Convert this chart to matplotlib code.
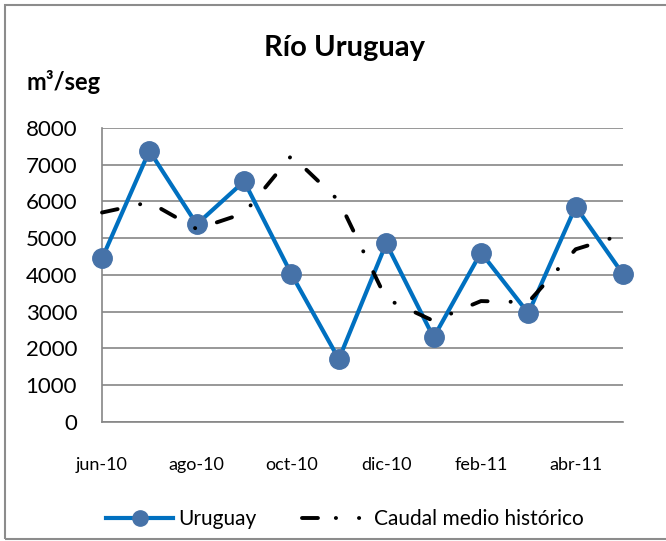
import matplotlib.pyplot as plt
from matplotlib.patches import Rectangle
from matplotlib.lines import Line2D

# Caudal mensual Río Uruguay (m3/seg)
meses = ['jun-10', 'jul-10', 'ago-10', 'sep-10', 'oct-10', 'nov-10',
         'dic-10', 'ene-11', 'feb-11', 'mar-11', 'abr-11', 'may-11']
uruguay = [4450, 7380, 5380, 6550, 4020, 1710, 4860, 2300, 4610, 2960, 5860, 4020]
historico = [5700, 5980, 5250, 5680, 7250, 6020, 3350, 2750, 3290, 3260, 4700, 5100]
y_ticks = [0, 1000, 2000, 3000, 4000, 5000, 6000, 7000, 8000]

grid_color = '#868686'
blue_line = '#0070C0'
blue_marker = '#4672A8'

plt.rcParams['font.family'] = ['Lato', 'DejaVu Sans']

fig = plt.figure(figsize=(6.66, 5.41), dpi=100, facecolor='white')
ax = fig.add_axes([0.1532, 0.2200, 0.7823, 0.5434])

x = list(range(len(meses)))
ax.plot(x, uruguay, color=blue_line, linewidth=3.0, marker='o', markersize=14,
        markerfacecolor=blue_marker, markeredgecolor=blue_marker,
        clip_on=False, zorder=3)
ax.plot(x, historico, color='black', linewidth=2.8,
        linestyle=(0, (4.1, 5.9, 0.05, 5.9)), dash_capstyle='round',
        clip_on=False, zorder=4)

ax.set_xlim(0, len(meses) - 1)
ax.set_ylim(0, 8000)
ax.set_yticks(y_ticks)
ax.set_yticklabels([str(v) for v in y_ticks])
ax.set_xticks(x[::2])
ax.set_xticklabels(meses[::2])
ax.tick_params(axis='y', length=0, labelsize=16, pad=18, colors='black')
ax.tick_params(axis='x', length=0, labelsize=13, pad=25, colors='black')

for s in ['top', 'right']:
    ax.spines[s].set_visible(False)
for s in ['left', 'bottom']:
    ax.spines[s].set_color(grid_color)
    ax.spines[s].set_linewidth(1.2)
ax.yaxis.grid(True, color=grid_color, linewidth=1.2)
ax.set_axisbelow(True)

fig.text(0.517, 0.912, 'Río Uruguay', ha='center', va='center',
         fontsize=21, fontweight='bold')
fig.text(0.040, 0.848, 'm³/seg', ha='left', va='center',
         fontsize=17, fontweight='bold')

# legend samples (Excel shows dash-dot-dot in the key)
h_uru = Line2D([], [], color=blue_line, linewidth=3.0, marker='o', markersize=11,
               markerfacecolor=blue_marker, markeredgecolor=blue_marker)
h_hist = Line2D([], [], color='black', linewidth=2.8,
                linestyle=(0, (4.1, 4.6, 0.05, 5.9, 0.05, 8)), dash_capstyle='round')
fig.legend([h_uru, h_hist], ['Uruguay', 'Caudal medio histórico'],
           loc='center', bbox_to_anchor=(0.518, 0.041), ncol=2, frameon=False,
           fontsize=15, handlelength=3.2, columnspacing=2.2, handletextpad=0.25)

border = Rectangle((0.008, 0.004), 1.2, 0.987, transform=fig.transFigure,
                   facecolor='none', edgecolor='#8C8C8C', linewidth=1.5)
fig.patches.append(border)

fig.savefig('out.png', dpi=100, facecolor='white')
